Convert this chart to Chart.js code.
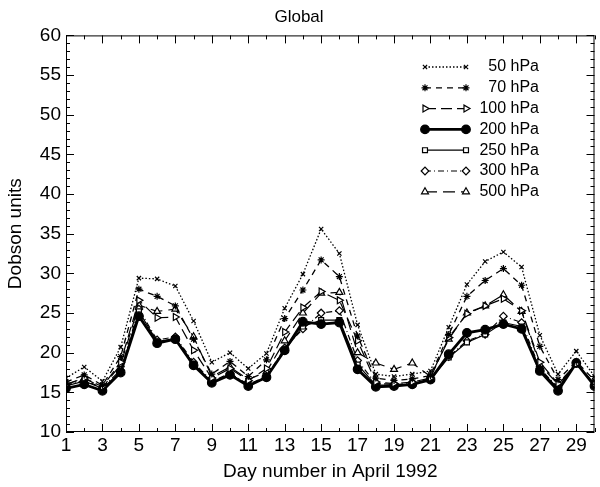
<!DOCTYPE html>
<html>
<head>
<meta charset="utf-8">
<script src="https://cdn.jsdelivr.net/npm/chart.js@4/dist/chart.umd.min.js"></script>
<style>
  body { margin: 0; background: #fff; }
  #wrap { width: 600px; height: 487px; }
</style>
</head>
<body>
<div id="wrap"><canvas id="grafico_ozonio"></canvas></div>
<script>
const dias = [1, 2, 3, 4, 5, 6, 7, 8, 9, 10, 11, 12, 13, 14, 15, 16, 17, 18, 19, 20, 21, 22, 23, 24, 25, 26, 27, 28, 29, 30];
const niveis = ['50 hPa', '70 hPa', '100 hPa', '200 hPa', '250 hPa', '300 hPa', '500 hPa'];
const hpa50  = [16.8, 18.2, 16.4, 20.7, 29.4, 29.3, 28.4, 24.0, 18.8, 20.0, 18.0, 19.9, 25.6, 29.9, 35.6, 32.5, 23.5, 17.3, 17.0, 17.3, 17.7, 23.2, 28.6, 31.5, 32.7, 30.8, 22.2, 17.3, 20.2, 17.0];
const hpa70  = [16.3, 17.2, 15.9, 19.5, 28.0, 27.1, 25.9, 21.7, 17.3, 18.9, 17.0, 19.1, 24.3, 27.9, 31.7, 29.6, 22.1, 16.8, 16.5, 16.7, 17.1, 22.3, 27.1, 29.1, 30.6, 28.5, 20.8, 16.6, 18.9, 16.5];
const hpa100 = [16.0, 16.8, 15.7, 18.8, 26.6, 24.4, 24.5, 20.3, 16.8, 18.0, 16.5, 18.0, 22.6, 25.7, 27.7, 26.6, 21.5, 16.3, 16.1, 16.3, 16.8, 21.9, 24.9, 25.9, 26.8, 25.3, 18.8, 16.1, 18.6, 16.1];
const hpa200 = [15.5, 16.0, 15.2, 17.5, 24.6, 21.2, 21.7, 18.4, 16.2, 17.2, 15.8, 16.9, 20.3, 23.9, 23.6, 23.8, 17.9, 15.7, 15.8, 16.0, 16.6, 19.8, 22.5, 22.9, 23.6, 23.0, 17.7, 15.2, 18.7, 15.8];
const hpa250 = [15.8, 16.4, 15.5, 17.6, 25.2, 21.4, 21.8, 18.6, 16.2, 17.3, 15.9, 16.9, 20.3, 23.3, 24.1, 24.1, 18.5, 15.9, 15.9, 16.0, 16.6, 19.4, 21.3, 22.3, 23.8, 23.3, 17.9, 15.5, 18.7, 15.9];
const hpa300 = [15.9, 16.5, 15.6, 17.8, 25.5, 21.6, 22.0, 18.8, 16.4, 17.4, 16.0, 17.0, 20.6, 23.0, 25.0, 25.3, 19.0, 16.1, 16.0, 16.1, 16.7, 19.5, 21.5, 22.3, 24.6, 23.8, 18.0, 15.6, 18.8, 16.0];
const hpa500 = [16.0, 16.8, 15.6, 18.5, 26.0, 25.2, 25.5, 22.0, 17.0, 18.2, 16.6, 17.6, 21.5, 25.0, 27.5, 27.6, 20.0, 18.7, 17.9, 18.7, 17.0, 21.7, 25.0, 25.9, 27.3, 25.2, 18.5, 16.0, 18.5, 16.0];
const yTicks = [10, 15, 20, 25, 30, 35, 40, 45, 50, 55, 60];

const fonte = "'Liberation Sans', Arial, Helvetica, sans-serif";
const pontos = serie => dias.map((d, i) => ({ x: d, y: serie[i] }));

// moldura com tracinhos para dentro, como no original
const moldura = {
  id: 'moldura',
  afterDraw(chart) {
    const { ctx, chartArea: a, scales: { x, y } } = chart;
    ctx.save();
    ctx.strokeStyle = '#000';
    ctx.lineWidth = 1;
    ctx.setLineDash([]);
    ctx.strokeRect(a.left + 0.5, a.top + 0.5, a.right - a.left - 1, a.bottom - a.top - 1);
    ctx.beginPath();
    for (let v = yTicks[0]; v <= yTicks[yTicks.length - 1]; v++) {
      const py = Math.round(y.getPixelForValue(v)) + 0.5;
      const len = yTicks.includes(v) ? 8 : 4;
      ctx.moveTo(a.left, py); ctx.lineTo(a.left + len, py);
      ctx.moveTo(a.right, py); ctx.lineTo(a.right - len, py);
    }
    dias.forEach(d => {
      const px = Math.round(x.getPixelForValue(d)) + 0.5;
      const len = d % 2 === 1 ? 8 : 4;
      ctx.moveTo(px, a.bottom); ctx.lineTo(px, a.bottom - len);
      ctx.moveTo(px, a.top); ctx.lineTo(px, a.top + len);
    });
    ctx.stroke();
    ctx.restore();
  }
};

// legenda desenhada à mão: marcador - linha - marcador + texto
const legenda = {
  id: 'legenda',
  afterDraw(chart) {
    const ctx = chart.ctx;
    const x0 = 425, x1 = 466, xt = 539, y0 = 67, dy = 20.8;
    ctx.save();
    chart.data.datasets.forEach((ds, i) => {
      const yy = y0 + i * dy;
      ctx.strokeStyle = '#000';
      ctx.lineWidth = ds.borderWidth;
      ctx.setLineDash(ds.borderDash || []);
      ctx.beginPath();
      ctx.moveTo(x0, yy); ctx.lineTo(x1, yy);
      ctx.stroke();
      ctx.setLineDash([]);
      const opt = {
        pointStyle: ds.pointStyle, radius: ds.pointRadius, rotation: ds.pointRotation || 0,
        borderWidth: ds.pointBorderWidth
      };
      ctx.fillStyle = ds.pointBackgroundColor;
      ctx.strokeStyle = '#000';
      ctx.lineWidth = ds.pointBorderWidth;
      Chart.helpers.drawPoint(ctx, opt, x0, yy);
      Chart.helpers.drawPoint(ctx, opt, x1, yy);
      ctx.fillStyle = '#000';
      ctx.font = '16px ' + fonte;
      ctx.textAlign = 'right';
      ctx.textBaseline = 'middle';
      ctx.fillText(ds.label, xt, yy);
    });
    ctx.restore();
  }
};

const estilos = [
  { dados: hpa50,  dash: [1.5, 2],      w: 1.3, ponto: 'crossRot', r: 3,   fundo: '#fff' },
  { dados: hpa70,  dash: [6, 5],        w: 1.3, ponto: 'star',     r: 3.5, fundo: '#fff' },
  { dados: hpa100, dash: [11, 5],       w: 1.2, ponto: 'triangle', r: 4,   fundo: '#fff', rot: 90 },
  { dados: hpa200, dash: [],            w: 2.8, ponto: 'circle',   r: 4.3, fundo: '#000' },
  { dados: hpa250, dash: [],            w: 1.2, ponto: 'rect',     r: 3.5, fundo: '#fff' },
  { dados: hpa300, dash: [6, 3, 1, 3],  w: 1.2, ponto: 'rectRot',  r: 3.8, fundo: '#fff' },
  { dados: hpa500, dash: [12, 6],       w: 1.2, ponto: 'triangle', r: 4,   fundo: '#fff' }
];

new Chart(document.getElementById('grafico_ozonio'), {
  type: 'line',
  data: {
    datasets: estilos.map((e, i) => ({
      label: niveis[i],
      data: pontos(e.dados),
      borderColor: '#000',
      borderWidth: e.w,
      borderDash: e.dash,
      pointStyle: e.ponto,
      pointRadius: e.r,
      pointRotation: e.rot || 0,
      pointBorderColor: '#000',
      pointBackgroundColor: e.fundo,
      pointBorderWidth: 1.2,
      tension: 0,
      fill: false
    }))
  },
  options: {
    responsive: true,
    maintainAspectRatio: false,
    animation: false,
    layout: { padding: { right: 2 } },
    scales: {
      x: {
        type: 'linear',
        min: 1,
        max: 30,
        afterFit: s => { s.height = 55; },
        grid: { display: false, drawTicks: false },
        border: { display: false },
        ticks: {
          stepSize: 1,
          autoSkip: false,
          maxRotation: 0,
          padding: 2,
          color: '#000',
          font: { family: fonte, size: 19 },
          callback: v => (v % 2 === 1 ? v : '')
        },
        title: {
          display: true,
          text: 'Day number in April 1992',
          color: '#000',
          font: { family: fonte, size: 19 },
          padding: { top: 1 }
        }
      },
      y: {
        min: 10,
        max: 60,
        afterFit: s => { s.width = 66; },
        grid: { display: false, drawTicks: false },
        border: { display: false },
        ticks: {
          stepSize: 5,
          padding: 5,
          color: '#000',
          font: { family: fonte, size: 19 }
        },
        title: {
          display: true,
          text: 'Dobson units',
          color: '#000',
          font: { family: fonte, size: 19 },
          padding: { bottom: 0 }
        }
      }
    },
    plugins: {
      legend: { display: false },
      tooltip: { enabled: false },
      title: {
        display: true,
        text: 'Global',
        color: '#000',
        font: { family: fonte, size: 17, weight: 'normal' },
        padding: { top: 7, bottom: 8 }
      }
    }
  },
  plugins: [moldura, legenda]
});
</script>
</body>
</html>
